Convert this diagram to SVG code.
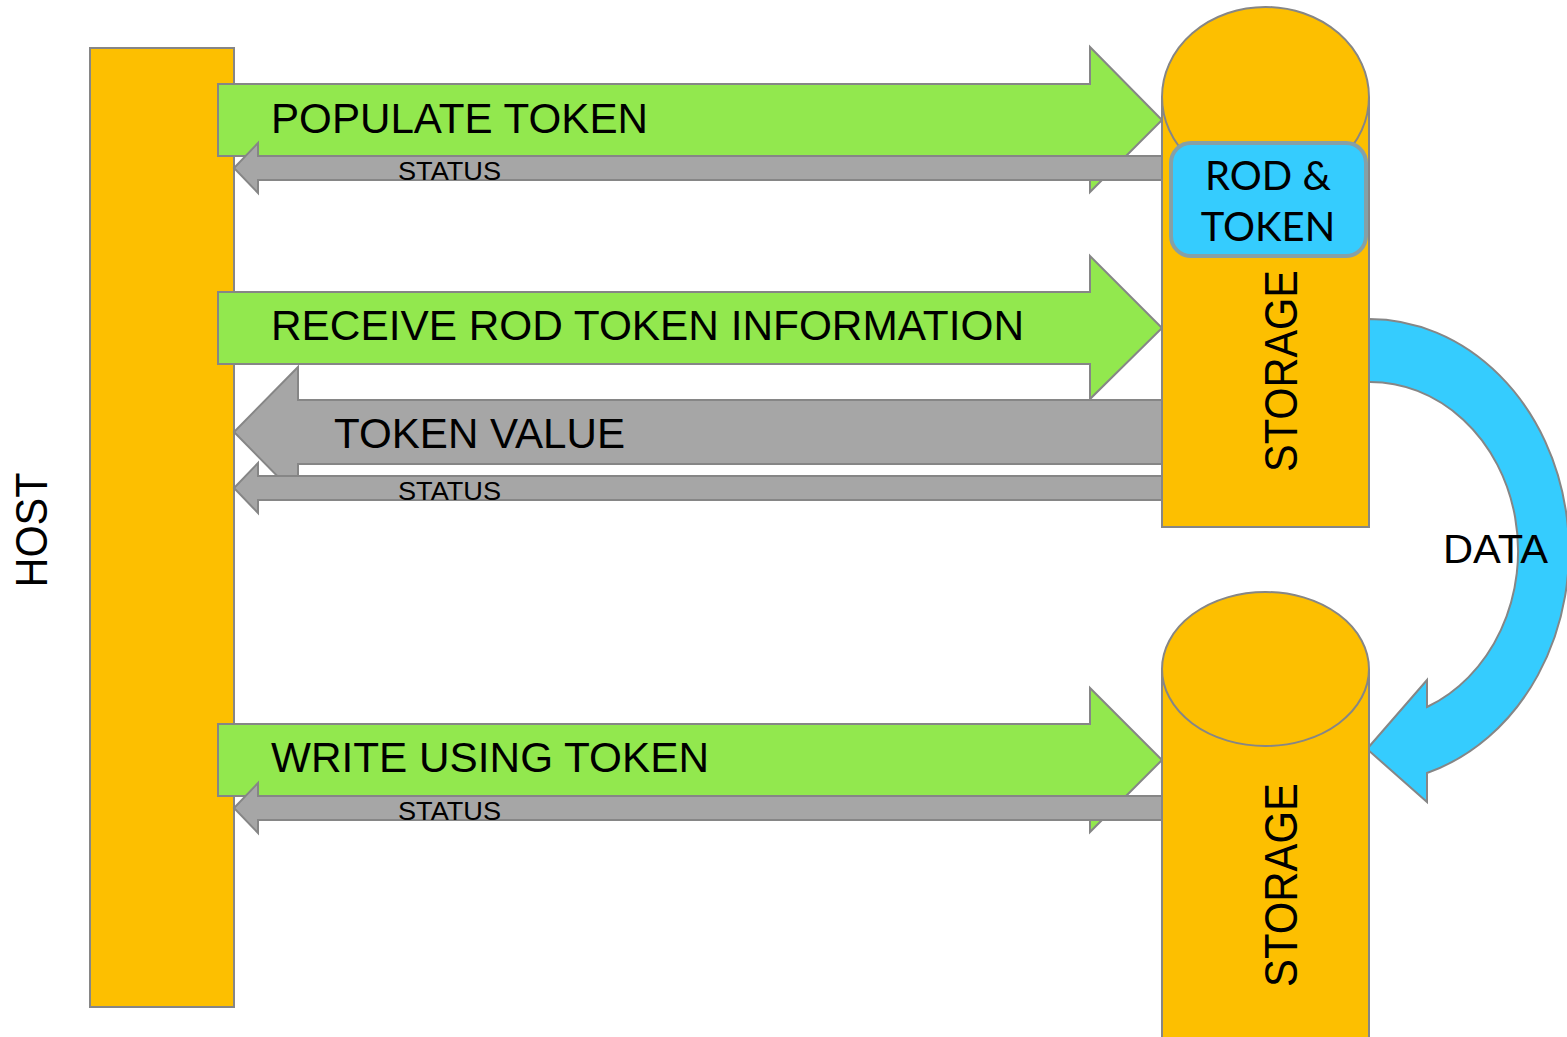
<svg xmlns="http://www.w3.org/2000/svg" width="1567" height="1037" viewBox="0 0 1567 1037">
<style>
.ln{stroke:#868686;stroke-width:2;stroke-linejoin:miter}
.org{fill:#FDBF00}
.grn{fill:#92E84E}
.gry{fill:#A6A6A6}
.blu{fill:#35CCFE}
.t{font-family:"Liberation Sans",Arial,sans-serif;fill:#000}
.big{font-size:42px}
.sm{font-size:25px}
.rod{font-family:Lato,"Noto Sans",sans-serif;font-size:40px;fill:#000;text-anchor:middle}
</style>
<rect width="1567" height="1037" fill="#fff"/>
<g id="host">
<rect class="org ln" x="90" y="48" width="144" height="959"/>
<text class="t" font-size="44" text-anchor="middle" transform="translate(47,530) rotate(-90)" textLength="115" lengthAdjust="spacingAndGlyphs">HOST</text>
</g>
<g id="connectors">
<g id="populate">
<path class="grn ln" d="M218,84 H1090 V47 L1162,120 L1090,192 V156 H218 Z"/>
<text class="t big" x="271" y="133" textLength="377" lengthAdjust="spacingAndGlyphs">POPULATE TOKEN</text>
</g>
<g id="receive">
<path class="grn ln" d="M218,292 H1090 V256 L1162,328 L1090,399 V364 H218 Z"/>
<text class="t big" x="271" y="340" textLength="753" lengthAdjust="spacingAndGlyphs">RECEIVE ROD TOKEN INFORMATION</text>
</g>
<g id="write">
<path class="grn ln" d="M218,724 H1090 V688 L1162,760 L1090,832 V796 H218 Z"/>
<text class="t big" x="271" y="772" textLength="438" lengthAdjust="spacingAndGlyphs">WRITE USING TOKEN</text>
</g>
<g id="token-value">
<path class="gry ln" d="M1162,400 H298 V367 L234,432 L298,497 V464 H1162 Z"/>
<text class="t big" x="334" y="448" textLength="291" lengthAdjust="spacingAndGlyphs">TOKEN VALUE</text>
</g>
<g id="status1">
<path class="gry ln" d="M1162,156 H258 V143 L234,168 L258,193 V180 H1162 Z"/>
<text class="t sm" x="398" y="180" textLength="103" lengthAdjust="spacingAndGlyphs">STATUS</text>
</g>
<g id="status2">
<path class="gry ln" d="M1162,476 H258 V463 L234,488 L258,513 V500 H1162 Z"/>
<text class="t sm" x="398" y="500" textLength="103" lengthAdjust="spacingAndGlyphs">STATUS</text>
</g>
<g id="status3">
<path class="gry ln" d="M1162,796 H258 V783 L234,808 L258,833 V820 H1162 Z"/>
<text class="t sm" x="398" y="820" textLength="103" lengthAdjust="spacingAndGlyphs">STATUS</text>
</g>
<g id="data">
<path class="blu ln" d="M1369,319 A200,232 0 0 1 1427,773 L1427,802 L1367,749 L1427,680 L1427,707 A148,169 0 0 0 1369,382 Z"/>
<text class="t" font-size="40" x="1443" y="563" textLength="105" lengthAdjust="spacingAndGlyphs">DATA</text>
</g>
</g>
<g id="storage1">
<path class="org ln" d="M1162,97 V527 H1369 V97"/>
<ellipse class="org ln" cx="1265.5" cy="97" rx="103.5" ry="90"/>
<rect x="1171" y="143" width="195" height="113" rx="20" fill="#35CCFE" stroke="#86A0A6" stroke-width="4"/>
<text class="rod" x="1268" y="190">ROD &amp;</text>
<text class="rod" x="1268" y="241">TOKEN</text>
<text class="t" font-size="46" text-anchor="middle" transform="translate(1297,371) rotate(-90)" textLength="202" lengthAdjust="spacingAndGlyphs">STORAGE</text>
</g>
<g id="storage2">
<path class="org ln" d="M1162,669 V1040 H1369 V669"/>
<ellipse class="org ln" cx="1265.5" cy="669" rx="103.5" ry="77"/>
<text class="t" font-size="46" text-anchor="middle" transform="translate(1297,885) rotate(-90)" textLength="204" lengthAdjust="spacingAndGlyphs">STORAGE</text>
</g>
</svg>
